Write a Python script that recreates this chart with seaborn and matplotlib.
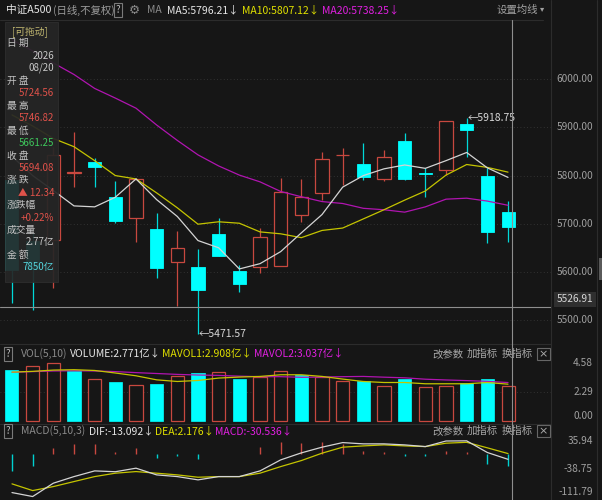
import numpy as np
import pandas as pd
import matplotlib
matplotlib.use("Agg")
import matplotlib.pyplot as plt
from matplotlib.transforms import blended_transform_factory
from matplotlib.patches import Rectangle
from matplotlib.lines import Line2D
import seaborn as sns

# ---------------- data ----------------
opens  = [5790, 5665, 5666, 5805, 5828, 5755, 5712, 5689, 5620, 5610, 5679, 5602, 5610,
          5612, 5718, 5764, 5842, 5824, 5793, 5872, 5806, 5812, 5907, 5799, 5724.56]
highs  = [5800, 5680, 5860, 5890, 5836, 5789, 5795, 5722, 5685, 5647, 5712, 5614, 5691,
          5795, 5793, 5849, 5857, 5868, 5853, 5888, 5816, 5913, 5918.75, 5816, 5746.82]
lows   = [5535, 5521, 5566, 5776, 5777, 5702, 5662, 5587, 5530, 5471.57, 5633, 5558, 5598,
          5612, 5704, 5749, 5780, 5791, 5789, 5791, 5755, 5801, 5839, 5660, 5661.25]
closes = [5604, 5606, 5843, 5807, 5818, 5706, 5793, 5608, 5650, 5562, 5633, 5575, 5672,
          5766, 5755.5, 5834, 5843, 5797, 5839, 5793, 5804, 5913, 5895, 5681.74, 5694.08]
prev_close_first = 5828.0

ma5  = [5840, 5800, 5769, 5737, 5735, 5755, 5793, 5750, 5715, 5665, 5650, 5606, 5617,
        5642, 5681, 5719, 5776, 5800, 5814, 5822, 5815, 5831, 5848, 5816, 5796.21]
ma10 = [5926, 5903, 5877, 5860, 5831, 5800, 5793, 5764, 5733, 5699, 5704, 5701, 5683,
        5679, 5671, 5686, 5691, 5710, 5729, 5749, 5768, 5801, 5823, 5817, 5807.12]
ma20 = [6082, 6059, 6034, 6010, 5981, 5961, 5940, 5905, 5873, 5843, 5820, 5801, 5787,
        5767, 5756, 5746, 5742, 5732, 5729, 5724, 5735, 5751, 5753, 5747, 5738.25]

volumes = [4.05, 4.31, 4.58, 3.91, 3.33, 3.07, 2.86, 2.91, 3.52, 3.79, 3.87, 3.31, 3.47,
           3.97, 3.65, 3.47, 3.12, 3.12, 2.80, 3.33, 2.67, 2.78, 2.99, 3.33, 2.771]
mavol1 = [3.86, 3.92, 4.02, 4.05, 3.99, 3.79, 3.57, 3.25, 3.12, 3.20, 3.39, 3.47, 3.52,
          3.65, 3.65, 3.52, 3.31, 3.12, 3.04, 3.04, 2.94, 2.94, 2.94, 3.04, 2.908]
mavol2 = [3.85, 3.90, 3.95, 3.97, 3.95, 3.90, 3.82, 3.75, 3.68, 3.63, 3.60, 3.54, 3.50,
          3.50, 3.45, 3.47, 3.50, 3.52, 3.46, 3.41, 3.30, 3.24, 3.19, 3.13, 3.037]

dif = [-101.3, -111.79, -76.4, -58.9, -43.8, -46.0, -36.6, -54.4, -58.9, -67.6, -58.9, -58.9,
       -43.8, -14.6, 4.0, 19.1, 31.3, 27.9, 27.9, 25.2, 20.7, 35.5, 35.94, 5.0, -13.092]
dea = [-78.2, -96.0, -85.4, -72.1, -58.9, -49.9, -45.6, -49.9, -54.4, -60.6, -58.9, -58.9,
       -49.9, -32.4, -16.4, 3.2, 19.1, 22.5, 25.2, 22.5, 20.7, 29.7, 32.0, 17.4, 2.176]
macd_hist = [-43.8, -32.0, 18.0, 27.0, 27.0, 7.5, 16.4, -8.5, -4.4, -12.0, 2.0, 2.0, 19.0,
             34.0, 31.0, 34.0, 28.0, 10.0, 6.0, -3.0, -3.0, 9.0, 6.0, -26.0, -30.536]

price_ticks = [6000, 5900, 5800, 5700, 5600, 5500]
vol_ticks = [4.58, 2.29, 0.00]
macd_ticks = [35.94, -38.75, -111.79]
crosshair_price = 5526.91

title_name = "中证A500"
title_sub = "(日线,不复权)"
ma_labels = ["MA5:5796.21↓", "MA10:5807.12↓", "MA20:5738.25↓"]
vol_labels = ["VOLUME:2.771亿↓", "MAVOL1:2.908亿↓", "MAVOL2:3.037亿↓"]
macd_labels = ["DIF:-13.092↓", "DEA:2.176↓", "MACD:-30.536↓"]
tip_rows = [("日 期", ["2026", "08/20"]), ("开 盘", ["5724.56"]), ("最 高", ["5746.82"]),
            ("最 低", ["5661.25"]), ("收 盘", ["5694.08"]), ("涨 跌", ["▲ 12.34"]),
            ("涨跌幅", ["+0.22%"]), ("成交量", ["2.77亿"]), ("金 额", ["7850亿"])]

# ---------------- style ----------------
BG = "#161616"
RED = "#c8483f"
CYAN = "#00ffff"
SEP = "#2c2c2c"
W, H = 602, 500

sns.set_theme(style="dark", rc={"axes.facecolor": BG, "figure.facecolor": BG,
                                "axes.grid": False})
plt.rcParams["font.family"] = ["Noto Sans CJK SC", "DejaVu Sans"]
plt.rcParams["axes.unicode_minus"] = False

fig = plt.figure(figsize=(W / 100, H / 100), dpi=100, facecolor=BG)


def px_axes(x0, y0, x1, y1):
    ax = fig.add_axes([x0 / W, 1 - y1 / H, (x1 - x0) / W, (y1 - y0) / H])
    ax.set_facecolor("none")
    for s in ax.spines.values():
        s.set_visible(False)
    ax.set_xticks([])
    ax.set_yticks([])
    return ax


def ftext(x, y, s, color, size=7.5, ha="left", **kw):
    return fig.text(x / W, 1 - y / H, s, color=color, fontsize=size, ha=ha,
                    va="center", **kw)


def fline(x0, y0, x1, y1, color=SEP, lw=0.8, **kw):
    fig.add_artist(Line2D([x0 / W, x1 / W], [1 - y0 / H, 1 - y1 / H],
                          transform=fig.transFigure, color=color, lw=lw, **kw))


n = len(closes)
idx = np.arange(n)
XL = (-0.58, 26.08)
BW = 0.63

df = pd.DataFrame({"i": idx, "ma5": ma5, "ma10": ma10, "ma20": ma20,
                   "mavol1": mavol1, "mavol2": mavol2, "dif": dif, "dea": dea})

# ---------------- main price panel ----------------
ax = px_axes(0, 20, 551, 344)
ax.set_xlim(*XL)
ax.set_ylim(5450.1, 6123.2)
for p in price_ticks:
    ax.axhline(p, color="#3a3a3a", lw=0.6, ls=(0, (1, 3)), zorder=0)

for i in range(n):
    o, h, l, c = opens[i], highs[i], lows[i], closes[i]
    up = c >= o
    col = RED if up else CYAN
    ax.vlines(i, l, h, color=col if up else "#00d8d8", lw=0.9, zorder=2)
    bottom, top = min(o, c), max(o, c)
    hgt = max(top - bottom, 0.8)
    if up:
        ax.bar(i, hgt, bottom=bottom, width=BW, facecolor=BG, edgecolor=RED,
               linewidth=0.9, zorder=3)
    else:
        ax.bar(i, hgt, bottom=bottom, width=BW, facecolor=CYAN, edgecolor=CYAN,
               linewidth=0.6, zorder=3)

sns.lineplot(data=df, x="i", y="ma20", ax=ax, color="#b014b0", lw=0.9, zorder=4)
sns.lineplot(data=df, x="i", y="ma10", ax=ax, color="#c4c400", lw=0.9, zorder=4)
sns.lineplot(data=df, x="i", y="ma5", ax=ax, color="#d4d4d4", lw=0.9, zorder=4)
ax.set_xlabel("")
ax.set_ylabel("")
ax.set_xlim(*XL)
ax.set_ylim(5450.1, 6123.2)

ax.axhline(crosshair_price, color="#8e8e8e", lw=0.8, zorder=5)

hi_i = int(np.argmax(highs))
lo_i = int(np.argmin(lows))
ax.annotate("←" + f"{highs[hi_i]:.2f}", xy=(hi_i, highs[hi_i]), xytext=(1, 0),
            textcoords="offset pixels", ha="left", va="center", color="#d8d8d8",
            fontsize=7.5, zorder=6)
ax.annotate("←" + f"{lows[lo_i]:.2f}", xy=(lo_i, lows[lo_i]), xytext=(1, 0),
            textcoords="offset pixels", ha="left", va="center", color="#d8d8d8",
            fontsize=7.5, zorder=6)

tr = blended_transform_factory(fig.transFigure, ax.transData)
for p in price_ticks:
    ax.text(593 / W, p, f"{p:.2f}", transform=tr, ha="right", va="center",
            color="#a0a0a0", fontsize=7.3, clip_on=False)

# ---------------- volume panel ----------------
axv = px_axes(0, 344, 551, 424)
axv.set_xlim(*XL)
axv.set_ylim(-0.237, 6.08)
axv.axhline(vol_ticks[1], color="#3a3a3a", lw=0.6, ls=(0, (1, 3)), zorder=0)
prev = [prev_close_first] + closes[:-1]
for i in range(n):
    if closes[i] >= prev[i]:
        axv.bar(i, volumes[i], width=BW, facecolor=BG, edgecolor=RED, linewidth=0.9,
                zorder=2)
    else:
        axv.bar(i, volumes[i], width=BW, facecolor=CYAN, edgecolor=CYAN, linewidth=0.5,
                zorder=2)
sns.lineplot(data=df, x="i", y="mavol2", ax=axv, color="#b014b0", lw=0.9, zorder=3)
sns.lineplot(data=df, x="i", y="mavol1", ax=axv, color="#c4c400", lw=0.9, zorder=3)
axv.set_xlabel("")
axv.set_ylabel("")
axv.set_xlim(*XL)
axv.set_ylim(-0.237, 6.08)
trv = blended_transform_factory(fig.transFigure, axv.transData)
for k, v in enumerate(vol_ticks):
    axv.text(593 / W, v, f"{v:.2f}", transform=trv, ha="right",
             va="bottom" if k == len(vol_ticks) - 1 else "center",
             color="#a0a0a0", fontsize=7.3, clip_on=False)

# ---------------- MACD panel ----------------
axm = px_axes(0, 424, 551, 500)
axm.set_xlim(*XL)
axm.set_ylim(-121.0, 80.6)
for i in range(n):
    v = macd_hist[i]
    axm.vlines(i, 0, v, color=RED if v >= 0 else "#00d0d0", lw=1.0, zorder=2)
sns.lineplot(data=df, x="i", y="dea", ax=axm, color="#c4c400", lw=0.9, zorder=3)
sns.lineplot(data=df, x="i", y="dif", ax=axm, color="#d4d4d4", lw=0.9, zorder=3)
axm.set_xlabel("")
axm.set_ylabel("")
axm.set_xlim(*XL)
axm.set_ylim(-121.0, 80.6)
trm = blended_transform_factory(fig.transFigure, axm.transData)
for k, v in enumerate(macd_ticks):
    axm.text(593 / W, v, f"{v:.2f}", transform=trm, ha="right",
             va="bottom" if k == len(macd_ticks) - 1 else "center",
             color="#a0a0a0", fontsize=7.3, clip_on=False)

# ---------------- separators & crosshair ----------------
fline(0, 19.5, 543, 19.5)
fline(0, 344, 551, 344)
fline(0, 424, 551, 424)
fline(551, 0, 551, 500)
fline(597, 0, 597, 500)
fline(511.7, 20, 511.7, 500, color="#8e8e8e", lw=0.8, zorder=6)
fig.add_artist(Rectangle((598.5 / W, 1 - 280 / H), 3 / W, 22 / H, transform=fig.transFigure,
                         facecolor="#5a5a5a", edgecolor="none", zorder=5))
ftext(575, 299.5, f"{crosshair_price:.2f}", "#d6d6d6", size=7.3, ha="center",
      bbox=dict(boxstyle="square,pad=0.25", fc="#2f2f2f", ec="none"), zorder=7)

# ---------------- headers ----------------
qbox = dict(boxstyle="square,pad=0.18", fc="none", ec="#7a7a7a", lw=0.8)
ftext(6, 10, title_name, "#e6e6e6", size=7.7)
ftext(53, 10, title_sub, "#9a9a9a", size=7.5)
ftext(118, 10, "?", "#bbbbbb", size=7, ha="center", bbox=qbox)
ftext(134, 10, "⚙", "#8a8a8a", size=9, ha="center", family="DejaVu Sans")
ftext(147, 10, "MA", "#8a8a8a", size=7.5)
ftext(167, 10, ma_labels[0], "#e6e6e6", size=7.5)
ftext(242, 10, ma_labels[1], "#e0e000", size=7.5)
ftext(322, 10, ma_labels[2], "#e020e0", size=7.5)
ftext(497, 10, "设置均线", "#a0a0a0", size=7.5)
ftext(540, 9, "▾", "#a0a0a0", size=6, family="DejaVu Sans")

for yh, name, labs, xs in [(354, "VOL(5,10)", vol_labels, [70, 162, 254]),
                           (431, "MACD(5,10,3)", macd_labels, [89, 155, 215])]:
    ftext(8, yh, "?", "#bbbbbb", size=7, ha="center", bbox=qbox)
    ftext(21, yh, name, "#8a8a8a", size=7.5)
    ftext(xs[0], yh, labs[0], "#e6e6e6", size=7.5)
    ftext(xs[1], yh, labs[1], "#e0e000", size=7.5)
    ftext(xs[2], yh, labs[2], "#e020e0", size=7.5)
    ftext(432, yh, "改参数", "#a8a8a8", size=7.5)
    ftext(467, yh, "加指标", "#a8a8a8", size=7.5)
    ftext(502, yh, "换指标", "#a8a8a8", size=7.5)
    ftext(543.5, yh, "×", "#a8a8a8", size=8, ha="center", family="DejaVu Sans",
          bbox=dict(boxstyle="square,pad=0.12", fc="none", ec="#666666", lw=0.8))

# ---------------- tooltip ----------------
fig.add_artist(Rectangle((5 / W, 1 - 282 / H), 53 / W, 260 / H, transform=fig.transFigure,
                         facecolor="#262626", edgecolor="#303030", lw=0.6, alpha=0.93,
                         zorder=8))
ftext(30, 31.5, "[可拖动]", "#c2b870", size=7, ha="center", zorder=9)
value_colors = {"开 盘": "#e0524a", "最 高": "#e0524a", "最 低": "#3ec65c",
                "收 盘": "#e0524a", "涨 跌": "#e0524a", "涨跌幅": "#e0524a",
                "成交量": "#c8c8c8", "金 额": "#55d4dc", "日 期": "#c8c8c8"}
y = 43.3
for label, vals in tip_rows:
    ftext(7, y, label, "#c4c4c4", size=7, zorder=9)
    y += 12.3
    for v in vals:
        ftext(54, y, v, value_colors[label], size=7, ha="right", zorder=9)
        y += 12.6

fig.savefig("out.png", dpi=100, facecolor=BG)
